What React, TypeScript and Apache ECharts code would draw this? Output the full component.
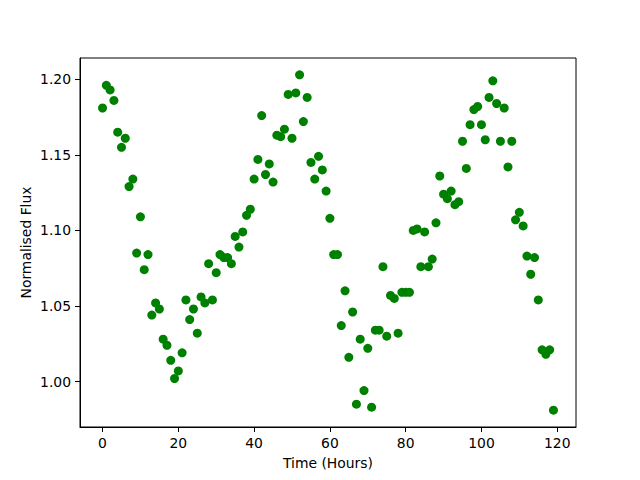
import React, { useEffect, useRef } from "react";
import * as echarts from "echarts";

const hours: number[] = Array.from({ length: 120 }, (_, i) => i);

const flux: number[] = [
  1.181, 1.196, 1.193, 1.186, 1.165, 1.155, 1.161, 1.129, 1.134, 1.085,
  1.109, 1.074, 1.084, 1.044, 1.052, 1.048, 1.028, 1.024, 1.014, 1.002,
  1.007, 1.019, 1.054, 1.041, 1.048, 1.032, 1.056, 1.052, 1.078, 1.054,
  1.072, 1.084, 1.082, 1.082, 1.078, 1.096, 1.089, 1.099, 1.110, 1.114,
  1.134, 1.147, 1.176, 1.137, 1.144, 1.132, 1.163, 1.162, 1.167, 1.190,
  1.161, 1.191, 1.203, 1.172, 1.188, 1.145, 1.134, 1.149, 1.140, 1.126,
  1.108, 1.084, 1.084, 1.037, 1.060, 1.016, 1.046, 0.985, 1.028, 0.994,
  1.022, 0.983, 1.034, 1.034, 1.076, 1.030, 1.057, 1.055, 1.032, 1.059,
  1.059, 1.059, 1.100, 1.101, 1.076, 1.099, 1.076, 1.081, 1.105, 1.136,
  1.124, 1.121, 1.126, 1.117, 1.119, 1.159, 1.141, 1.170, 1.180, 1.182,
  1.170, 1.160, 1.188, 1.199, 1.184, 1.159, 1.181, 1.142, 1.159, 1.107,
  1.112, 1.103, 1.083, 1.071, 1.082, 1.054, 1.021, 1.018, 1.021, 0.981,
];

const xTicks: number[] = [0, 20, 40, 60, 80, 100, 120];
const yTicks: number[] = [1.0, 1.05, 1.1, 1.15, 1.2];

export default function App() {
  const ref = useRef<HTMLDivElement>(null);
  useEffect(() => {
    if (!ref.current) return;
    const chart = echarts.init(ref.current, null, { renderer: "svg" });
    const font = "DejaVu Sans";
    const xMin = -5.95, xMax = 124.95;
    const yLo = Math.min(...flux), yHi = Math.max(...flux);
    const yPad = (yHi - yLo) * 0.05;
    chart.setOption({
      animation: false,
      backgroundColor: "#ffffff",
      grid: {
        left: 80, top: 58, right: 64, bottom: 53,
        show: true, borderColor: "#000", borderWidth: 1,
        backgroundColor: "transparent",
      },
      xAxis: {
        type: "value",
        min: xMin, max: xMax,
        name: "Time (Hours)",
        nameLocation: "middle",
        nameGap: 29,
        nameMoveOverlap: false,
        nameTextStyle: { fontFamily: font, fontSize: 13.9, color: "#000" },
        axisLine: { show: true, onZero: false, lineStyle: { color: "#000", width: 1 } },
        axisTick: { show: true, inside: false, length: 5, customValues: xTicks, lineStyle: { color: "#000" } },
        axisLabel: { show: true, margin: 9, customValues: xTicks, fontFamily: font, fontSize: 13.9, color: "#000", formatter: (v: number) => String(v) },
        splitLine: { show: false },
      },
      yAxis: {
        type: "value",
        min: yLo - yPad, max: yHi + yPad,
        name: "Normalised Flux",
        nameLocation: "middle",
        nameGap: 47,
        nameMoveOverlap: false,
        nameRotate: 90,
        nameTextStyle: { fontFamily: font, fontSize: 13.9, color: "#000" },
        axisLine: { show: true, onZero: false, lineStyle: { color: "#000", width: 1 } },
        axisTick: { show: true, inside: false, length: 5, customValues: yTicks, lineStyle: { color: "#000" } },
        axisLabel: { show: true, margin: 9, customValues: yTicks, fontFamily: font, fontSize: 13.9, color: "#000", formatter: (v: number) => v.toFixed(2) },
        splitLine: { show: false },
      },
      series: [
        {
          type: "scatter",
          data: hours.map((h, i) => [h, flux[i]]),
          symbol: "circle",
          symbolSize: 9,
          itemStyle: { color: "#008000", opacity: 1 },
        },
      ],
    });
    return () => chart.dispose();
  }, []);
  return <div ref={ref} style={{ width: 640, height: 480, position: "absolute", left: 0, top: 0 }} />;
}
